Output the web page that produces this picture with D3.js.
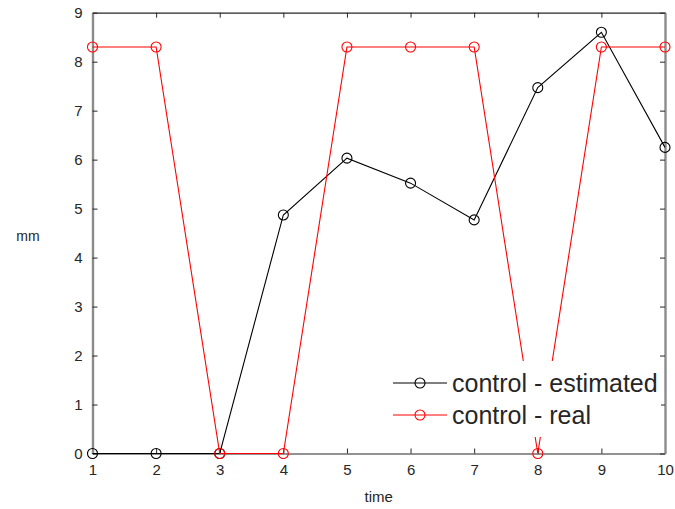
<!DOCTYPE html>
<html>
<head>
<meta charset="utf-8">
<script src="https://cdn.jsdelivr.net/npm/d3@7"></script>
<style>
  html, body { margin: 0; padding: 0; background: #fff; }
  svg { display: block; }
  text { font-family: "Liberation Sans", Arial, sans-serif; }
</style>
</head>
<body>
<svg id="chart" width="675" height="509"></svg>
<script>
// Time steps and the two control signals (mm)
const times = [1, 2, 3, 4, 5, 6, 7, 8, 9, 10];
const estimated = [0, 0, 0, 4.87, 6.03, 5.52, 4.77, 7.47, 8.6, 6.25];
const real = [8.3, 8.3, 0, 0, 8.3, 8.3, 8.3, 0, 8.3, 8.3];
const xTicks = [1, 2, 3, 4, 5, 6, 7, 8, 9, 10];
const yTicks = [0, 1, 2, 3, 4, 5, 6, 7, 8, 9];
const seriesNames = ["control - estimated", "control - real"];
const seriesColors = ["#000000", "#ff0000"];

const svg = d3.select("#chart");
const plotLeft = 92.5, plotRight = 665, plotTop = 12.7, plotBottom = 453.5;

const x = d3.scaleLinear().domain([1, 10]).range([plotLeft, plotRight]);
const y = d3.scaleLinear().domain([0, 9]).range([plotBottom, plotTop]);

const tickColor = "#262626";
const tickLen = 5;

// Axes with inward ticks (box style)
const gx = svg.append("g").attr("transform", `translate(0,${plotBottom})`)
  .call(d3.axisBottom(x).tickValues(xTicks).tickSizeInner(-tickLen).tickSizeOuter(0).tickPadding(11));
const gxTop = svg.append("g").attr("transform", `translate(0,${plotTop})`)
  .call(d3.axisTop(x).tickValues(xTicks).tickSizeInner(-tickLen).tickSizeOuter(0).tickFormat(""));
const gy = svg.append("g").attr("transform", `translate(${plotLeft},0)`)
  .call(d3.axisLeft(y).tickValues(yTicks).tickSizeInner(-tickLen).tickSizeOuter(0).tickPadding(10));
const gyRight = svg.append("g").attr("transform", `translate(${plotRight},0)`)
  .call(d3.axisRight(y).tickValues(yTicks).tickSizeInner(-tickLen).tickSizeOuter(0).tickFormat(""));

[gx, gxTop, gy, gyRight].forEach(g => {
  g.selectAll(".tick line").attr("stroke", tickColor).attr("stroke-width", 1);
  g.selectAll("text").attr("fill", tickColor).attr("font-size", 15);
});
gx.select(".domain").attr("stroke", "#262626").attr("stroke-width", 1.2);
gxTop.select(".domain").attr("stroke", "#262626").attr("stroke-width", 1.2);
gy.select(".domain").attr("stroke", "#8c8c8c").attr("stroke-width", 2.4);
gyRight.select(".domain").attr("stroke", "#8c8c8c").attr("stroke-width", 2.4);

// Axis titles
svg.append("text").attr("x", (plotLeft + plotRight) / 2).attr("y", 502)
  .attr("text-anchor", "middle").attr("font-size", 15).attr("fill", tickColor).text("time");
svg.append("text").attr("x", 28).attr("y", 241)
  .attr("text-anchor", "middle").attr("font-size", 14).attr("fill", tickColor).text("mm");

// Series
const series = [estimated, real];
const line = d3.line().x((d, i) => x(times[i])).y(d => y(d));
const plot = svg.append("g");
series.forEach((vals, k) => {
  plot.append("path").datum(vals)
    .attr("fill", "none").attr("stroke", seriesColors[k]).attr("stroke-width", 1.1)
    .attr("d", line);
  plot.selectAll(null).data(vals).enter().append("circle")
    .attr("cx", (d, i) => x(times[i])).attr("cy", d => y(d)).attr("r", 5)
    .attr("fill", "none").attr("stroke", seriesColors[k]).attr("stroke-width", 1.1);
});

// Legend (opaque background, no border)
const legend = svg.append("g");
legend.append("rect").attr("x", 385).attr("y", 361).attr("width", 276).attr("height", 76)
  .attr("fill", "#fff");
seriesNames.forEach((name, k) => {
  const cy = 383 + k * 32;
  legend.append("line").attr("x1", 393).attr("x2", 447).attr("y1", cy).attr("y2", cy)
    .attr("stroke", seriesColors[k]).attr("stroke-width", 1.1);
  legend.append("circle").attr("cx", 420).attr("cy", cy).attr("r", 5)
    .attr("fill", "none").attr("stroke", seriesColors[k]).attr("stroke-width", 1.1);
  legend.append("text").attr("x", 452).attr("y", cy + 9)
    .attr("font-size", 25).attr("fill", tickColor).text(name);
});
</script>
</body>
</html>
